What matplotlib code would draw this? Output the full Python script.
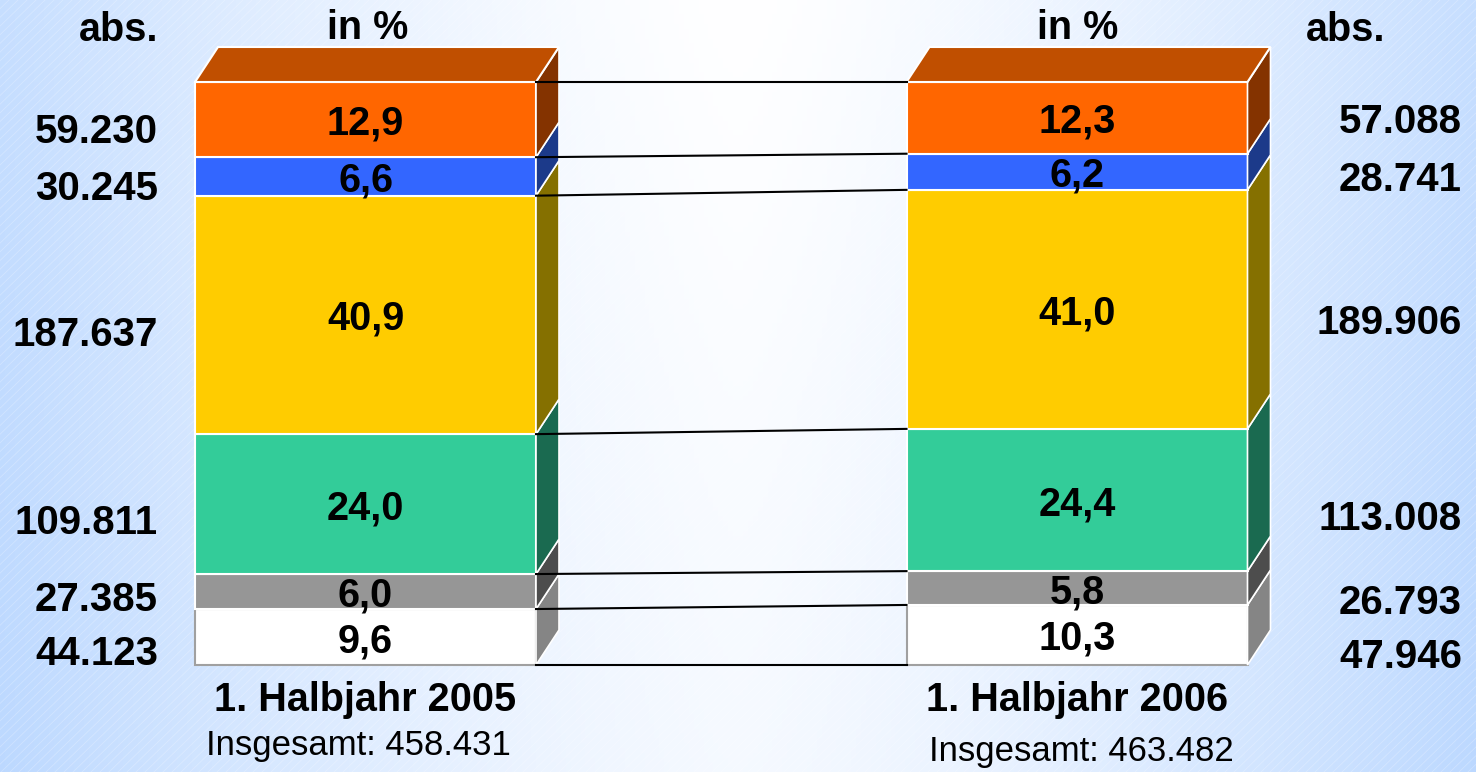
import numpy as np
import matplotlib.pyplot as plt
from matplotlib.patches import Polygon

plt.rcParams['font.family'] = ['Liberation Sans', 'DejaVu Sans']

# data, bottom segment first
periods = ["1. Halbjahr 2005", "1. Halbjahr 2006"]
totals = ["458.431", "463.482"]
pct_2005 = [9.6, 6.0, 24.0, 40.9, 6.6, 12.9]
pct_2006 = [10.3, 5.8, 24.4, 41.0, 6.2, 12.3]
abs_2005 = ["44.123", "27.385", "109.811", "187.637", "30.245", "59.230"]
abs_2006 = ["47.946", "26.793", "113.008", "189.906", "28.741", "57.088"]
pct_labels_2005 = ["9,6", "6,0", "24,0", "40,9", "6,6", "12,9"]
pct_labels_2006 = ["10,3", "5,8", "24,4", "41,0", "6,2", "12,3"]

front_colors = ["#FFFFFF", "#969696", "#33CC99", "#FFCC00", "#3366FF", "#FF6600"]
side_colors = ["#858585", "#4D4D4D", "#1A6A50", "#857000", "#1C3A8A", "#843300"]
top_color = "#C04F00"

# layout: pixel -> axis units (y in percent)
PX = 5.83          # pixels per percent
BASE = 665         # pixel row of bar bottom
def py(p):
    return (BASE - p) / PX

FS = 28.5

fig = plt.figure(figsize=(14.76, 7.72), dpi=100)
ax = fig.add_axes([0, 0, 1, 1])
ax.set_xlim(0, 1476)
ax.set_ylim(py(772), py(0))
ax.axis("off")

# background gradient
gx = np.linspace(0, 1, 300)
gy = np.linspace(0, 1, 160)
X, Y = np.meshgrid(gx, gy)
w = np.clip(np.abs(X - 0.5) * 2, 0, 1) ** 1.4
w = np.clip(w * 0.85 + 0.15 * (Y), 0, 1)
blue = np.array([0.74, 0.85, 1.0])
white = np.array([1.0, 1.0, 1.0])
img = white[None, None, :] * (1 - w[..., None]) + blue[None, None, :] * w[..., None]
ax.imshow(img, extent=[0, 1476, py(772), py(0)], aspect="auto", zorder=0, origin="upper")

# faint diagonal stripes
for s in np.arange(-800, 1476, 9):
    ax.plot([s, s + 800], [py(772), py(0)], color="white", lw=0.6, alpha=0.25, zorder=0.5)

bar_x = [365.5, 1077]
bar_w = 341
dx, dd = 23, 35 / PX

for xc, pcts, labels, period in [
        (bar_x[0], pct_2005, pct_labels_2005, periods[0]),
        (bar_x[1], pct_2006, pct_labels_2006, periods[1])]:
    x0, x1 = xc - bar_w / 2, xc + bar_w / 2
    bottoms = np.concatenate([[0], np.cumsum(pcts)[:-1]])
    for i, (p, b) in enumerate(zip(pcts, bottoms)):
        ec = "#A0A0A0" if i == 0 else "white"
        ax.bar(xc, p, bottom=b, width=bar_w, color=front_colors[i], edgecolor=ec, lw=1.5, zorder=2)
        side = Polygon([(x1, b), (x1 + dx, b + dd), (x1 + dx, b + p + dd), (x1, b + p)],
                       closed=True, facecolor=side_colors[i], edgecolor="white", lw=1.2, zorder=2)
        ax.add_patch(side)
        ax.text(xc, b + p / 2, labels[i], ha="center", va="center_baseline",
                fontsize=FS, fontweight="bold", zorder=4)
    top = sum(pcts)
    ax.add_patch(Polygon([(x0, top), (x0 + dx, top + dd), (x1 + dx, top + dd), (x1, top)],
                         closed=True, facecolor=top_color, edgecolor="white", lw=1.5, zorder=2))
    ax.text(xc, py(700), period, ha="center", va="center", fontsize=FS, fontweight="bold")

# totals under the bars
ax.text(358, py(745), "Insgesamt: " + totals[0], ha="center", va="center", fontsize=25)
ax.text(1081, py(752), "Insgesamt: " + totals[1], ha="center", va="center", fontsize=25)

# abs. labels
off_l = [13, 4, 15, 16, 9, 8]
off_r = [18, 11, 15, 10, 4, 0]
cum_l = np.concatenate([[0], np.cumsum(pct_2005)])
cum_r = np.concatenate([[0], np.cumsum(pct_2006)])
for i in range(6):
    yl = (cum_l[i] + cum_l[i + 1]) / 2 - off_l[i] / PX
    yr = (cum_r[i] + cum_r[i + 1]) / 2 - off_r[i] / PX
    ax.text(158, yl, abs_2005[i], ha="right", va="center_baseline", fontsize=29, fontweight="bold")
    ax.text(1462, yr, abs_2006[i], ha="right", va="center_baseline", fontsize=29, fontweight="bold")

# connector lines between segment boundaries
for a, b in zip(cum_l, cum_r):
    ax.plot([bar_x[0] + bar_w / 2, bar_x[1] - bar_w / 2], [a, b], color="black", lw=1.5, zorder=3)

# column headers
ax.text(158, py(30), "abs.", ha="right", va="center", fontsize=FS, fontweight="bold")
ax.text(368, py(28), "in %", ha="center", va="center", fontsize=FS, fontweight="bold")
ax.text(1078, py(28), "in %", ha="center", va="center", fontsize=FS, fontweight="bold")
ax.text(1346, py(30), "abs.", ha="center", va="center", fontsize=FS, fontweight="bold")

fig.savefig("out.png", dpi=100)
